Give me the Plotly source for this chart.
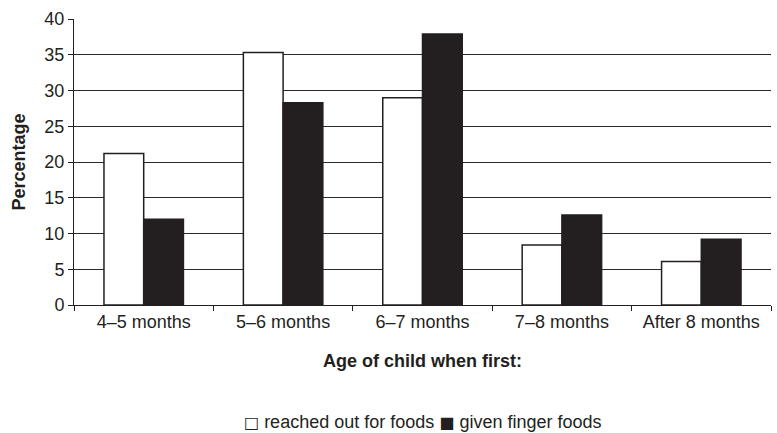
import plotly.graph_objects as go

categories = ["4–5 months", "5–6 months", "6–7 months", "7–8 months", "After 8 months"]
reached_out = [21.2, 35.3, 29.0, 8.4, 6.1]
finger_foods = [12.0, 28.3, 37.9, 12.6, 9.2]
y_ticks = [0, 5, 10, 15, 20, 25, 30, 35, 40]
series_names = ["reached out for foods", "given finger foods"]

font_family = "Liberation Sans, Arial, sans-serif"
ink = "#231f20"

fig = go.Figure()
fig.add_trace(go.Bar(
    x=categories, y=reached_out, name=series_names[0],
    marker=dict(color="white", line=dict(color=ink, width=1.5)),
))
fig.add_trace(go.Bar(
    x=categories, y=finger_foods, name=series_names[1],
    marker=dict(color=ink, line=dict(color=ink, width=1.5)),
))

# compact legend line below the axis title
fig.add_annotation(
    xref="paper", yref="paper", x=0.5, y=-0.409, xanchor="center", yanchor="middle",
    showarrow=False,
    text=f"<span style='font-family:DejaVu Sans;font-size:16px'>□</span> {series_names[0]} "
         f"<span style='font-family:DejaVu Sans;font-size:16px'>■</span> {series_names[1]}",
    font=dict(size=18, color=ink),
)

fig.update_layout(
    width=777, height=433,
    margin=dict(l=74, r=6, t=19, b=128),
    paper_bgcolor="white", plot_bgcolor="white",
    barmode="group", bargap=0.43, bargroupgap=0,
    font=dict(family=font_family, size=18, color=ink),
    showlegend=False,
)
fig.update_xaxes(
    type="category", tickson="boundaries", ticks="outside", ticklen=5,
    tickcolor=ink, showline=True, linecolor=ink, linewidth=1,
    showgrid=False, automargin=False, tickfont=dict(size=18),
    title=dict(text="<b>Age of child when first:</b>", font=dict(size=18), standoff=23),
)
fig.update_yaxes(
    range=[0, 40], tickvals=y_ticks, ticks="outside", ticklen=5,
    tickcolor=ink, showline=True, linecolor=ink, linewidth=1,
    showgrid=True, gridcolor="#2a2a2a", gridwidth=1, zeroline=False,
    automargin=False, tickfont=dict(size=18),
    title=dict(text="<b>Percentage</b>", font=dict(size=18), standoff=14),
)

fig.write_html("out.html")
